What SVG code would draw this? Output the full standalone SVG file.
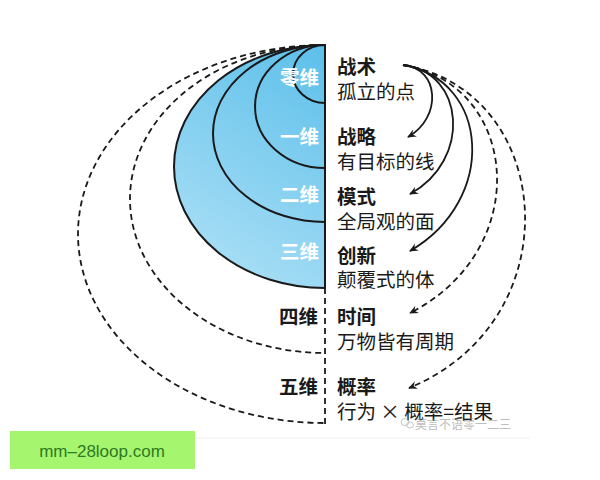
<svg xmlns="http://www.w3.org/2000/svg" width="600" height="480" viewBox="0 0 600 480">
<style>
.t{font-family:"Noto Sans CJK SC","Noto Sans",sans-serif;font-size:19.5px;fill:#1a1a1a}
.b{font-weight:bold}
.w{fill:#ffffff;font-weight:bold;text-anchor:end}
.k{text-anchor:end;font-weight:bold}
.ring{stroke:#1a1a1a;stroke-width:2}
.dash{fill:none;stroke:#1a1a1a;stroke-width:1.8;stroke-dasharray:6 4}
.arr{fill:none;stroke:#1a1a1a;stroke-width:1.8}
</style>
<defs>
<linearGradient id="g" gradientUnits="userSpaceOnUse" x1="325" y1="45" x2="175" y2="290">
<stop offset="0" stop-color="#5cbfea"/>
<stop offset="1" stop-color="#b4e3f7"/>
</linearGradient>
<marker id="ah" markerWidth="10" markerHeight="10" refX="8" refY="5" orient="auto" markerUnits="userSpaceOnUse">
<path d="M0,1 L9,5 L0,9 L3,5 Z" fill="#1a1a1a"/>
</marker>
</defs>
<rect width="600" height="480" fill="#ffffff"/>

<g id="dim5">
<path class="dash" d="M325,45 A247,189 0 0 0 325,423"/>
<text class="t k" x="318" y="394">五维</text>
</g>
<g id="dim4">
<path class="dash" d="M325,45 A195,154 0 0 0 325,353"/>
<text class="t k" x="318" y="324">四维</text>
</g>
<g id="dim3">
<path class="ring" fill="url(#g)" d="M325,45 A151,121.5 0 0 0 325,288 Z"/>
</g>
<g id="dim2">
<path class="ring" fill="url(#g)" d="M325,45 A112,88.5 0 0 0 325,222 Z"/>
</g>
<g id="dim1">
<path class="ring" fill="url(#g)" d="M325,45 A70,61.5 0 0 0 325,168 Z"/>
</g>
<g id="dim0">
<path class="ring" fill="url(#g)" d="M325,45 A32,29 0 0 0 325,103 Z"/>
</g>
<g id="labels-left">
<text class="t w" x="319" y="85">零维</text>
<text class="t w" x="319" y="144">一维</text>
<text class="t w" x="319" y="202">二维</text>
<text class="t w" x="319" y="259">三维</text>
</g>
<g id="axis">
<line x1="325" y1="45" x2="325" y2="288" stroke="#1a1a1a" stroke-width="2"/>
<line x1="325" y1="288" x2="325" y2="425" stroke="#1a1a1a" stroke-width="1.8" stroke-dasharray="6 4"/>
</g>

<g id="tactics">
<text class="t b" x="337" y="74">战术</text>
<text class="t" x="337" y="99">孤立的点</text>
</g>
<g id="strategy">
<text class="t b" x="337" y="144">战略</text>
<text class="t" x="337" y="169">有目标的线</text>
</g>
<g id="pattern">
<text class="t b" x="337" y="204">模式</text>
<text class="t" x="337" y="229">全局观的面</text>
</g>
<g id="innovation">
<text class="t b" x="337" y="263">创新</text>
<text class="t" x="337" y="287">颠覆式的体</text>
</g>
<g id="time">
<text class="t b" x="337" y="324">时间</text>
<text class="t" x="337" y="349">万物皆有周期</text>
</g>
<g id="probability">
<text class="t b" x="337" y="394">概率</text>
<text class="t" x="337" y="419">行为 × 概率=结果</text>
</g>

<g id="connectors">
<path class="arr" marker-end="url(#ah)" d="M403,65 C440,68 442,118 408,137"/>
<path class="arr" marker-end="url(#ah)" d="M403,65 C465,72 472,160 410,194"/>
<path class="arr" marker-end="url(#ah)" d="M403,65 C490,80 498,200 410,251"/>
<path class="arr" marker-end="url(#ah)" stroke-dasharray="6 4" d="M403,65 C520,85 534,250 410,313"/>
<path class="arr" marker-end="url(#ah)" stroke-dasharray="6 4" d="M403,65 C555,90 574,320 409,388"/>
</g>

<g id="watermark" opacity="0.55">
<line x1="68" y1="438" x2="530" y2="438" stroke="#e6e6e6" stroke-width="1"/>
<ellipse cx="405" cy="422" rx="4" ry="3.5" fill="none" stroke="#999" stroke-width="1"/>
<ellipse cx="410" cy="425" rx="3.5" ry="3" fill="none" stroke="#999" stroke-width="1"/>
<text x="415" y="429" font-family="Noto Sans CJK SC, sans-serif" font-size="12" fill="#888">莫言不语零一二三</text>
</g>

<g id="badge">
<rect x="10" y="431" width="185" height="38" fill="#a6f56f"/>
<text x="102" y="457" text-anchor="middle" font-family="Liberation Sans, Arial, sans-serif" font-size="17" fill="#2d7a22">mm–28loop.com</text>
</g>
</svg>
